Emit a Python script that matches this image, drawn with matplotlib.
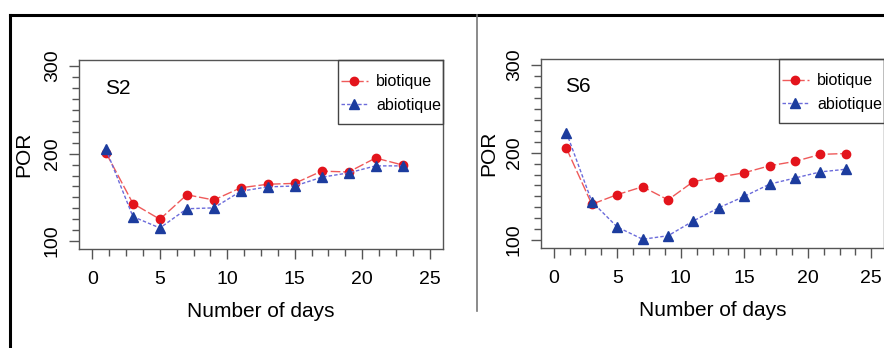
import matplotlib
matplotlib.use("Agg")
import matplotlib.pyplot as plt
from matplotlib.ticker import MultipleLocator
from matplotlib.lines import Line2D
from matplotlib.patches import Rectangle

plt.rcParams['font.family'] = ['Liberation Sans', 'DejaVu Sans']

days = [1, 3, 5, 7, 9, 11, 13, 15, 17, 19, 21, 23]

# S2
s2_bio = [201, 143, 125, 153, 147, 161, 165, 166, 180, 179, 195, 187]
s2_abio = [205, 128, 115, 137, 138, 157, 162, 163, 173, 178, 186, 186]

# S6
s6_bio = [205, 141, 152, 161, 146, 167, 172, 177, 185, 190, 198, 199]
s6_abio = [223, 144, 115, 101, 105, 122, 137, 150, 164, 171, 178, 181]

panels = [("S2", s2_bio, s2_abio), ("S6", s6_bio, s6_abio)]

W, H = 884, 348
fig = plt.figure(figsize=(W / 100, H / 100), dpi=100)


def px_rect(left, top, right, bottom):
    return [left / W, 1 - bottom / H, (right - left) / W, (bottom - top) / H]


rects = [px_rect(79, 60, 443, 249), px_rect(541, 59, 884, 248)]

red_line, red_mark = '#ef5a5a', '#e3141c'
blue_line, blue_mark = '#6b6bdb', '#1c3c9e'
grey = '#555555'

for rect, (name, bio, abio) in zip(rects, panels):
    ax = fig.add_axes(rect)
    ax.plot(days, bio, color=red_line, lw=1.0, dashes=(7, 2),
            marker='o', ms=6, mfc=red_mark, mec=red_mark, label='biotique')
    ax.plot(days, abio, color=blue_line, lw=1.0, dashes=(2.5, 1.5),
            marker='^', ms=7, mfc=blue_mark, mec=blue_mark, label='abiotique')
    ax.set_xlim(-1, 26)
    ax.set_ylim(91, 307)
    ax.xaxis.set_major_locator(MultipleLocator(5))
    ax.xaxis.set_minor_locator(MultipleLocator(1.25))
    ax.yaxis.set_major_locator(MultipleLocator(100))
    ax.yaxis.set_minor_locator(MultipleLocator(12.5))
    ax.tick_params(which='both', direction='out', color=grey, width=1.0,
                   labelsize=14)
    ax.tick_params(which='major', length=7)
    ax.tick_params(which='minor', length=5)
    ax.tick_params(axis='x', pad=9)
    ax.tick_params(axis='y', pad=6)
    for lab in ax.get_yticklabels():
        lab.set_rotation(90)
        lab.set_va('center')
    for sp in ax.spines.values():
        sp.set_color(grey)
        sp.set_linewidth(1.0)
    ax.set_xlabel('Number of days', fontsize=15, labelpad=10)
    ax.set_ylabel('POR', fontsize=15)
    ax.yaxis.set_label_coords(-0.125, 0.5)
    ax.text(0.9, 275, name, fontsize=15, va='center', ha='left')

    # legend box drawn narrower than its text, like the original
    w_px = ax.get_position().width * W
    h_px = ax.get_position().height * H
    bx = 1 - 105 / w_px
    by = 1 - 64 / h_px
    ax.add_patch(Rectangle((bx, by), 1 - bx, 1 - by, transform=ax.transAxes,
                           fill=False, ec='#444444', lw=1.0, zorder=5,
                           clip_on=False))
    ax.legend(loc='upper left', bbox_to_anchor=(bx, 1 - 11 / h_px), fontsize=11.5,
              frameon=False, borderaxespad=0, borderpad=0.2,
              handlelength=1.65, handletextpad=0.55, labelspacing=0.55)

# outer frame and divider
fig.add_artist(Line2D([10 / W, 1], [1 - 15 / H, 1 - 15 / H], color='black', lw=2.2))
fig.add_artist(Line2D([10 / W, 10 / W], [1 - 15 / H, 0], color='black', lw=2.2))
fig.add_artist(Line2D([476.5 / W, 476.5 / W], [1 - 15 / H, 1 - 311 / H], color='#777777', lw=1.2))

fig.savefig('out.png', dpi=100)
